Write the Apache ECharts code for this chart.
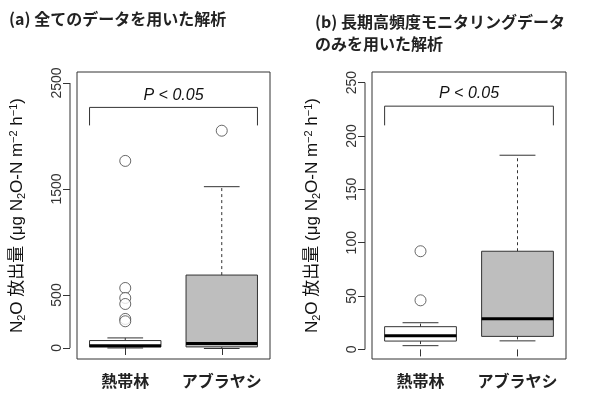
<!DOCTYPE html><html><head><meta charset="utf-8">
<script src="https://cdn.jsdelivr.net/npm/echarts@6/dist/echarts.min.js"></script>
<style>html,body{margin:0;background:#fff}#c{width:600px;height:400px}</style></head><body><div id="c"></div>
<script>
const categories = ['熱帯林', 'アブラヤシ'];
// [min, Q1, median, Q3, max]
const boxA = [[0, 10, 20, 70, 95], [-5, 10, 42, 688, 1522]];
const outliersA = [[0, 1765], [0, 566], [0, 472], [0, 415], [0, 274], [0, 252], [1, 2050]];
const boxB = [[3.5, 7.8, 12.8, 21.3, 25], [8, 12.2, 28.8, 92, 182]];
const outliersB = [[0, 92], [0, 46]];
const ticksA = [0, 500, 1500, 2500];
const ticksB = [0, 50, 100, 150, 200, 250];
const bracketA = [2100, 2270], pLabelA = 2385;
const bracketB = [210, 228], pLabelB = 240;

const FF = 'Liberation Sans, Arial, Noto Sans CJK JP, sans-serif';
const chart = echarts.init(document.getElementById('c'));
const grids = [{left:77, top:72, width:193, height:287}, {left:372, top:72, width:194, height:287}];
function boxSeries(idx, data){
  return {type:'custom', xAxisIndex:idx, yAxisIndex:idx, data:data.map((d,i)=>[i].concat(d)),
    renderItem(p, api){
      const i=api.value(0), bw=api.size([1,0])[0]*0.74, cw=bw*0.5;
      const c=api.coord([i,0])[0];
      const y=k=>api.coord([i,api.value(k)])[1];
      const mn=y(1),q1=y(2),md=y(3),q3=y(4),mx=y(5);
      const fill = i===1 ? '#bebebe' : '#fff';
      const ls={stroke:'#333',lineWidth:1};
      return {type:'group',children:[
        {type:'line',shape:{x1:c,y1:q3,x2:c,y2:mx},style:{stroke:'#333',lineWidth:1,lineDash:[3,3]}},
        {type:'line',shape:{x1:c,y1:q1,x2:c,y2:mn},style:{stroke:'#333',lineWidth:1,lineDash:[3,3]}},
        {type:'line',shape:{x1:c-cw/2,y1:mx,x2:c+cw/2,y2:mx},style:ls},
        {type:'line',shape:{x1:c-cw/2,y1:mn,x2:c+cw/2,y2:mn},style:ls},
        {type:'rect',shape:{x:c-bw/2,y:q3,width:bw,height:q1-q3},style:{fill:fill,stroke:'#333',lineWidth:1}},
        {type:'line',shape:{x1:c-bw/2,y1:md,x2:c+bw/2,y2:md},style:{stroke:'#000',lineWidth:3}}
      ]};
    }};
}
function bracketSeries(idx, br, pl){
  return {type:'custom', xAxisIndex:idx, yAxisIndex:idx, data:[[0]],
    renderItem(p, api){
      const bw=api.size([1,0])[0]*0.74;
      const x1=api.coord([0,0])[0]-bw/2, x2=api.coord([1,0])[0]+bw/2;
      const yl=api.coord([0,br[0]])[1], yt=api.coord([0,br[1]])[1], yp=api.coord([0,pl])[1];
      return {type:'group',children:[
        {type:'polyline',shape:{points:[[x1,yl],[x1,yt],[x2,yt],[x2,yl]]},style:{stroke:'#333',lineWidth:1,fill:null}},
        {type:'text',style:{x:(x1+x2)/2,y:yp,text:'P < 0.05',font:'italic 16px '+FF,fill:'#111',align:'center',verticalAlign:'middle'}}
      ]};
    }};
}
function axisLineSeries(idx, lo, hi){
  return {type:'custom', xAxisIndex:idx, yAxisIndex:idx, data:[[0]], silent:true,
    renderItem(p, api){
      const x=grids[idx].left-7;
      return {type:'line',shape:{x1:x,y1:api.coord([0,lo])[1],x2:x,y2:api.coord([0,hi])[1]},style:{stroke:'#333',lineWidth:1}};
    }};
}
function scat(idx,data){return {type:'scatter',xAxisIndex:idx,yAxisIndex:idx,data:data,symbol:'circle',symbolSize:11,
  itemStyle:{color:'#fff',borderColor:'#444',borderWidth:1}};}
const yname = '{n|N}{s|2}{n|O 放出量 (μg N}{s|2}{n|O-N m}{u|−2}{n| h}{u|−1}{n|)}';
const rich = {n:{fontSize:17,fontFamily:FF,color:'#111'},s:{fontSize:11,fontFamily:FF,verticalAlign:'bottom',color:'#111',padding:[8,0,0,0]},u:{fontSize:11,fontFamily:FF,color:'#111',padding:[0,0,8,0]}};
function yAxis(idx,min,max,ticks){
  return {type:'value',gridIndex:idx,min:min,max:max,offset:7,splitLine:{show:false},axisLine:{show:false},
    axisTick:{show:true,length:7,customValues:ticks,lineStyle:{color:'#333'}},
    axisLabel:{customValues:ticks,rotate:90,fontSize:14,fontFamily:FF,color:'#333',margin:6,formatter:v=>String(v)},
    name:yname,nameLocation:'middle',nameGap:43,nameRotate:90,nameTextStyle:{rich:rich}};
}
function xAxis(idx){
  return {type:'category',gridIndex:idx,data:categories,axisLine:{show:false},
    axisTick:{show:true,alignWithLabel:true,interval:0,length:7,lineStyle:{color:'#333'}},
    axisLabel:{interval:0,fontSize:16,fontWeight:'bold',fontFamily:'Noto Sans CJK JP',color:'#222',margin:14}};
}
chart.setOption({
  animation:false,
  title:[{text:'(a) 全てのデータを用いた解析',left:4,top:6,textStyle:{fontSize:16,fontWeight:'bold',fontFamily:'Noto Sans CJK JP',color:'#222'}},
         {text:'(b) 長期高頻度モニタリングデータ\nのみを用いた解析',left:310,top:6,textStyle:{fontSize:16,fontWeight:'bold',lineHeight:22,fontFamily:'Noto Sans CJK JP',color:'#222'}}],
  grid:grids.map(g=>Object.assign({show:true,borderColor:'#333',borderWidth:1,backgroundColor:'transparent'},g)),
  xAxis:[xAxis(0),xAxis(1)],
  yAxis:[yAxis(0,-104,2604,ticksA),yAxis(1,-9,260,ticksB)],
  series:[axisLineSeries(0,0,2500),axisLineSeries(1,0,250),boxSeries(0,boxA),boxSeries(1,boxB),
    scat(0,outliersA),scat(1,outliersB),bracketSeries(0,bracketA,pLabelA),bracketSeries(1,bracketB,pLabelB)]
});
</script></body></html>
